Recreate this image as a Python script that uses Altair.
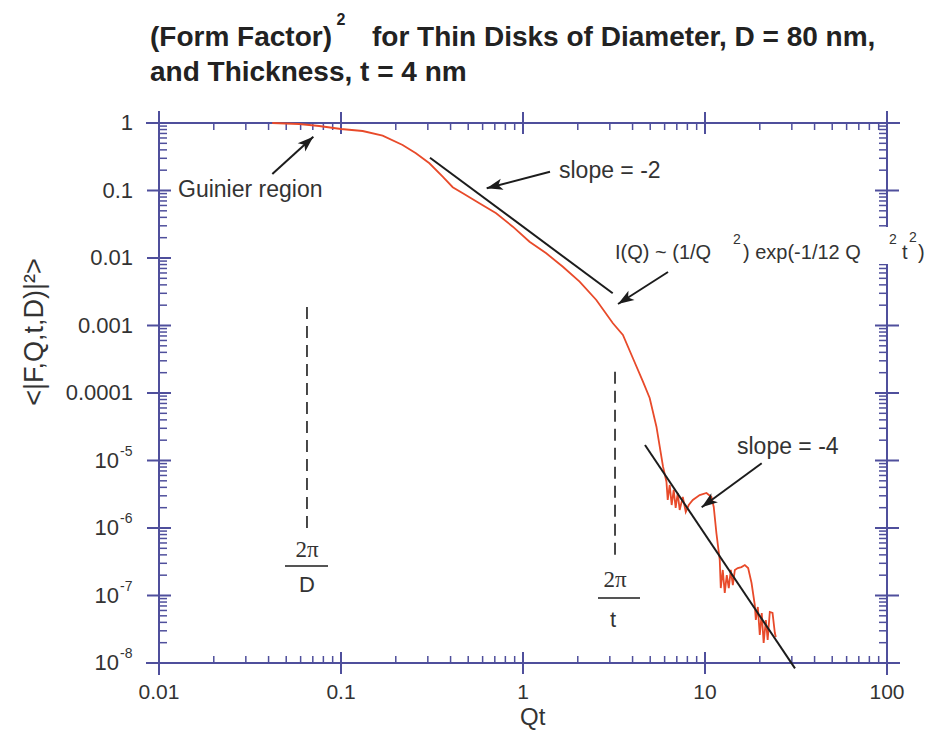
import math
import altair as alt
import pandas as pd

W, H = 728, 540
AX = "#4f4f9c"
LAB = "#333333"
RED = "#e84a2a"
BLK = "#1c1c1c"
FONT = "Liberation Sans"

# ---- data ----
qt = [0.0419, 0.0589, 0.0758, 0.0999, 0.1315, 0.1693, 0.218, 0.258, 0.306, 0.362,
      0.411, 0.467, 0.576, 0.712, 0.879, 1.086, 1.342, 1.656, 2.046, 2.528,
      3.119, 3.540, 4.018, 4.562, 4.966, 5.41, 5.88,
      6.14, 6.24, 6.40, 6.56, 6.73, 6.90, 7.08, 7.26, 7.55, 7.84,
      8.14, 8.57, 9.35, 10.19, 10.85, 11.17, 11.55, 12.05, 12.21, 12.52,
      12.84, 13.17, 13.51, 13.86, 14.22, 14.59, 15.14, 15.86, 16.55, 17.26,
      18.02, 18.78, 19.02, 19.51, 20.0, 20.5, 21.0, 21.6, 22.1, 22.7,
      23.5, 24.2, 24.5]
ff = [1.0, 0.966, 0.903, 0.815, 0.761, 0.648, 0.472, 0.356, 0.253, 0.160,
      0.112, 0.0909, 0.0646, 0.0459, 0.0291, 0.0174, 0.01174, 0.00743, 0.00446, 0.00239,
      0.00108, 0.000723, 0.000327, 0.000147, 8.43e-5, 3.17e-5, 8.1e-6,
      4.85e-6, 2.60e-6, 4.34e-6, 2.19e-6, 3.66e-6, 1.98e-6, 3.30e-6, 1.85e-6, 2.88e-6, 1.73e-6,
      2.19e-6, 2.60e-6, 3.08e-6, 3.30e-6, 2.88e-6, 2.05e-6, 8.43e-7, 3.36e-7, 1.29e-7, 2.39e-7,
      1.09e-7, 2.01e-7, 1.29e-7, 2.39e-7, 1.43e-7, 2.39e-7, 2.55e-7, 2.64e-7, 2.83e-7, 2.55e-7,
      1.53e-7, 7.23e-8, 4.34e-8, 6.76e-8, 2.60e-8, 5.51e-8, 1.98e-8, 4.34e-8, 2.19e-8, 5.70e-8,
      5.51e-8, 2.78e-8, 2.43e-8]

# slope guide lines (x1, y1, x2, y2)
slope_x1 = [0.3083, 4.68]
slope_y1 = [0.3061, 1.698e-5]
slope_x2 = [3.111, 31.22]
slope_y2 = [0.0030, 8.34e-9]

# dashed markers at 2pi/D and 2pi/t
dash_x = [0.06503, 3.203]
dash_y1 = [0.00188, 2.07e-4]
dash_y2 = [8.43e-7, 3.17e-7]

# arrows: tail -> tip
arr_x1 = [0.04194, 1.407, 6.262, 20.49]
arr_y1 = [0.1755, 0.190, 0.006203, 9.09e-6]
arr_x2 = [0.07045, 0.6316, 3.327, 9.59]
arr_y2 = [0.6267, 0.1078, 0.002083, 2.026e-6]

x_major = [0.01, 0.1, 1, 10, 100]
x_major_lab = ["0.01", "0.1", "1", "10", "100"]
y_major = [1, 0.1, 0.01, 0.001, 0.0001, 1e-5, 1e-6, 1e-7, 1e-8]
y_plain_vals = [1, 0.1, 0.01, 0.001, 0.0001]
y_plain_lab = ["1", "0.1", "0.01", "0.001", "0.0001"]
y_exp_vals = [1e-5, 1e-6, 1e-7, 1e-8]
y_exp_sup = ["-5", "-6", "-7", "-8"]
x_minor = [m * d for d in [0.01, 0.1, 1, 10] for m in range(2, 10)]
y_minor = [m * d for d in [1e-8, 1e-7, 1e-6, 1e-5, 1e-4, 1e-3, 1e-2, 1e-1] for m in range(2, 10)]

xs = alt.Scale(type="log", domain=[0.01, 100])
ys = alt.Scale(type="log", domain=[1e-8, 1])


def X(f):
    return alt.X(f, type="quantitative", scale=xs, axis=None)


def Y(f):
    return alt.Y(f, type="quantitative", scale=ys, axis=None)


one = pd.DataFrame({"a": [0]})
layers = []


def prule(x, y, x2=None, y2=None, color=AX, sw=2):
    enc = dict(x=alt.value(x), y=alt.value(y))
    if x2 is not None:
        enc["x2"] = alt.value(x2)
    if y2 is not None:
        enc["y2"] = alt.value(y2)
    return alt.Chart(one).mark_rule(color=color, strokeWidth=sw).encode(**enc)


def txt(s, x, y, size, align="left", color=LAB, weight="normal", font=FONT, angle=None):
    kw = dict(text=s, fontSize=size, align=align, baseline="middle", color=color,
              fontWeight=weight, font=font)
    if angle is not None:
        kw["angle"] = angle
    return alt.Chart(one).mark_text(**kw).encode(x=alt.value(x), y=alt.value(y))


# axis lines (frame)
layers += [
    prule(-13, H, x2=W + 13),
    prule(-13, 0, x2=W + 13),
    prule(0, -12, y2=H + 12),
    prule(W, -12, y2=H + 12),
]

# ticks
xmaj = pd.DataFrame({"v": x_major})
xmin = pd.DataFrame({"v": x_minor})
ymaj = pd.DataFrame({"v": y_major})
ymin = pd.DataFrame({"v": y_minor})
for (y1, y2) in [(H - 11, H + 11), (-11, 11)]:
    layers.append(alt.Chart(xmaj).mark_rule(color=AX, strokeWidth=2).encode(
        x=X("v"), y=alt.value(y1), y2=alt.value(y2)))
for (y1, y2) in [(H - 7, H), (0, 7)]:
    layers.append(alt.Chart(xmin).mark_rule(color=AX, strokeWidth=1.5).encode(
        x=X("v"), y=alt.value(y1), y2=alt.value(y2)))
for (x1, x2) in [(-12, 12), (W - 12, W + 12)]:
    layers.append(alt.Chart(ymaj).mark_rule(color=AX, strokeWidth=2).encode(
        y=Y("v"), x=alt.value(x1), x2=alt.value(x2)))
for (x1, x2) in [(0, 8), (W - 8, W)]:
    layers.append(alt.Chart(ymin).mark_rule(color=AX, strokeWidth=1.5).encode(
        y=Y("v"), x=alt.value(x1), x2=alt.value(x2)))

# white gap on right axis behind formula text
layers.append(alt.Chart(one).mark_rect(color="white").encode(
    x=alt.value(W - 13), x2=alt.value(W + 13), y=alt.value(104), y2=alt.value(141)))

# tick labels
layers.append(alt.Chart(pd.DataFrame({"v": x_major, "t": x_major_lab})).mark_text(
    fontSize=21, font=FONT, color=LAB, align="center", baseline="middle").encode(
    x=X("v"), y=alt.value(H + 30), text="t:N"))
layers.append(alt.Chart(pd.DataFrame({"v": y_plain_vals, "t": y_plain_lab})).mark_text(
    fontSize=22, font=FONT, color=LAB, align="right", baseline="middle").encode(
    y=Y("v"), x=alt.value(-26), text="t:N"))
layers.append(alt.Chart(pd.DataFrame({"v": y_exp_vals, "t": ["10"] * 4})).mark_text(
    fontSize=22, font=FONT, color=LAB, align="right", baseline="middle").encode(
    y=Y("v"), x=alt.value(-40), text="t:N"))
layers.append(alt.Chart(pd.DataFrame({"v": y_exp_vals, "t": y_exp_sup})).mark_text(
    fontSize=14, font=FONT, color=LAB, align="left", baseline="middle", dy=-9).encode(
    y=Y("v"), x=alt.value(-39), text="t:N"))

# data curve
curve = pd.DataFrame({"qt": qt, "ff": ff, "i": list(range(len(qt)))})
layers.append(alt.Chart(curve).mark_line(color=RED, strokeWidth=1.8).encode(
    x=X("qt"), y=Y("ff"), order="i:Q"))

# slope lines
sl = pd.DataFrame({"x1": slope_x1, "y1": slope_y1, "x2": slope_x2, "y2": slope_y2})
layers.append(alt.Chart(sl).mark_rule(color=BLK, strokeWidth=2).encode(
    x=X("x1"), y=Y("y1"), x2="x2:Q", y2="y2:Q"))

# dashed markers
dl = pd.DataFrame({"x": dash_x, "y1": dash_y1, "y2": dash_y2})
layers.append(alt.Chart(dl).mark_rule(color=BLK, strokeWidth=1.6, strokeDash=[12, 7]).encode(
    x=X("x"), y=Y("y1"), y2="y2:Q"))


# arrows
def px(v):
    return W * (math.log10(v) + 2) / 4


def py(v):
    return H * (-math.log10(v)) / 8


angs = []
for a, b, c, d in zip(arr_x1, arr_y1, arr_x2, arr_y2):
    dx = px(c) - px(a)
    dy = py(d) - py(b)
    angs.append(math.degrees(math.atan2(dx, -dy)) % 360)
ar = pd.DataFrame({"x1": arr_x1, "y1": arr_y1, "x2": arr_x2, "y2": arr_y2, "ang": angs})
layers.append(alt.Chart(ar).mark_rule(color=BLK, strokeWidth=2).encode(
    x=X("x1"), y=Y("y1"), x2="x2:Q", y2="y2:Q"))
layers.append(alt.Chart(ar).mark_point(
    shape="M0,0 L0.7,2 L0,1.5 L-0.7,2 Z", filled=True, color=BLK, opacity=1, size=256).encode(
    x=X("x2"), y=Y("y2"), angle=alt.Angle("ang:Q", scale=None)))

# annotation texts
layers += [
    txt("Guinier region", 19, 67, 23),
    txt("slope = -2", 400, 48, 23),
    txt("slope = -4", 578, 324, 23),
    txt("I(Q) ~ (1/Q", 456, 130, 20),
    txt("2", 578, 117, 14, align="center"),
    txt(") exp(-1/12 Q", 584, 130, 20),
    txt("2", 734, 117, 14, align="center"),
    txt("t", 743, 130, 20),
    txt("2", 754, 115, 14, align="center"),
    txt(")", 759, 130, 20),
]

# fraction labels 2pi/D and 2pi/t
layers += [
    txt("2π", 148, 427, 23, align="center", font="Liberation Serif"),
    prule(126, 443, x2=169, color="#555555", sw=2),
    txt("D", 148, 462, 22, align="center"),
    txt("2π", 456, 457, 23, align="center", font="Liberation Serif"),
    prule(439, 475, x2=481, color="#555555", sw=2),
    txt("t", 454, 497, 22, align="center"),
]

# titles
layers += [
    txt("(Form Factor)", -9, -85, 28, weight="bold", color="#222222"),
    txt("2", 182, -103, 16, align="center", weight="bold", color="#222222"),
    txt("for Thin Disks of Diameter, D = 80 nm,", 213, -85, 28, weight="bold", color="#222222"),
    txt("and Thickness, t = 4 nm", -9, -50, 28, weight="bold", color="#222222"),
    txt("Qt", 361, H + 55, 24),
    txt("<|F,Q,t,D)|²>", -124, 209, 27, align="center", angle=270),
]

chart = alt.layer(*layers).properties(
    width=W, height=H,
    autosize=alt.AutoSizeParams(type="none"),
    padding={"left": 159, "top": 123, "right": 47, "bottom": 68},
    background="white",
).configure_view(stroke=None)

chart.save("out.html", embed_options={"renderer": "svg", "actions": False})
